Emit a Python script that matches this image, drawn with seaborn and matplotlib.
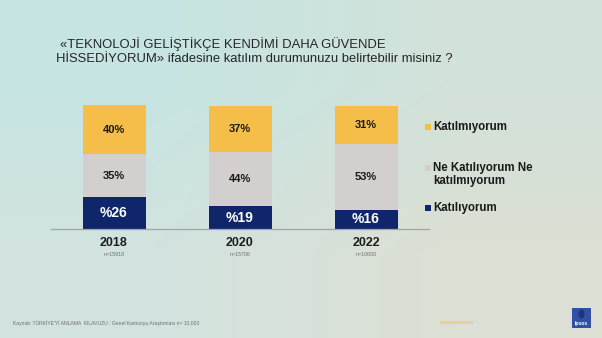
import numpy as np
import pandas as pd
import matplotlib
matplotlib.use("Agg")
import matplotlib.pyplot as plt
from matplotlib.patches import Rectangle, Ellipse
from matplotlib.transforms import blended_transform_factory
import seaborn as sns

# Survey results per year (percent)
years = ["2018", "2020", "2022"]
sample_sizes = ["n=15918", "n=15706", "n=10000"]
agree = [26, 19, 16]          # Katılıyorum
neutral = [35, 44, 53]        # Ne Katılıyorum Ne katılmıyorum
disagree = [40, 37, 31]       # Katılmıyorum

legend_labels = ["Katılmıyorum", "Ne Katılıyorum Ne\nkatılmıyorum", "Katılıyorum"]
title_line1 = "«TEKNOLOJİ GELİŞTİKÇE KENDİMİ DAHA GÜVENDE"
title_line2 = "HİSSEDİYORUM» ifadesine katılım durumunuzu belirtebilir misiniz ?"
source_text = "Kaynak: TÜRKİYE'Yİ ANLAMA  KILAVUZU : Genel Kamuoyu Araştırması n= 10,000"

C_YELLOW = "#F4BE49"
C_GREY = "#D3CFCF"
C_NAVY = "#10266A"

sns.set_theme(style="white")
plt.rcParams["font.family"] = ["Liberation Sans", "DejaVu Sans"]

W, H = 602, 338
fig = plt.figure(figsize=(W / 100, H / 100), dpi=100)

# soft gradient background
bg = fig.add_axes([0, 0, 1, 1], zorder=-10)
grad = np.array([[[0.776, 0.898, 0.890], [0.824, 0.886, 0.855]],
                 [[0.824, 0.890, 0.875], [0.863, 0.875, 0.831]]])
bg.imshow(grad, extent=[0, 1, 0, 1], aspect="auto", interpolation="bilinear",
          origin="upper")
bg.set_axis_off()

df = pd.DataFrame({"year": years, "agree": agree, "neutral": neutral,
                   "disagree": disagree})
df["cum_neutral"] = df["agree"] + df["neutral"]
df["cum_total"] = df["cum_neutral"] + df["disagree"]

px = lambda x: x / W
py = lambda y: 1 - y / H

ax = fig.add_axes([px(51), py(229.3), px(429) - px(51), py(105) - py(229.3)])
ax.patch.set_alpha(0)

# stacked bars drawn as cumulative layers, back to front
for col, color in [("cum_total", C_YELLOW), ("cum_neutral", C_GREY), ("agree", C_NAVY)]:
    sns.barplot(data=df, x="year", y=col, order=years, color=color,
                width=0.5, saturation=1, ax=ax, linewidth=0)

ax.set_xlim(-0.5, 2.5)
ax.set_ylim(0, 101)
ax.set_xlabel("")
ax.set_ylabel("")
ax.set_yticks([])
ax.set_xticks([])
ax.set_xticks([-0.5, 0.5, 1.5, 2.5], minor=True)
ax.tick_params(axis="x", which="minor", length=3, width=0.8, color="#9ea6a6",
               direction="out")
for s in ["top", "right", "left"]:
    ax.spines[s].set_visible(False)
ax.spines["bottom"].set_color("#9ea6a6")
ax.spines["bottom"].set_linewidth(0.9)

# segment labels
for i in range(len(years)):
    a, n, d = agree[i], neutral[i], disagree[i]
    ax.text(i, a / 2, f"%{a}", ha="center", va="center", color="white",
            fontsize=10, fontweight="bold")
    ax.text(i, a + n / 2, f"{n}%", ha="center", va="center", color="#1a1a1a",
            fontsize=8, fontweight="bold")
    ax.text(i, a + n + d / 2, f"{d}%", ha="center", va="center", color="#1a1a1a",
            fontsize=8, fontweight="bold")

# year and sample size labels under the axis
tr = blended_transform_factory(ax.transData, fig.transFigure)
for i, (yr, ns) in enumerate(zip(years, sample_sizes)):
    ax.text(i, py(242.7), yr, transform=tr, ha="center", va="center",
            fontsize=9, fontweight="bold", color="#1e1e1e")
    ax.text(i, py(254.5), ns, transform=tr, ha="center", va="center",
            fontsize=3.8, color="#6e6e6e")

# title
fig.text(px(60), py(44), title_line1, ha="left", va="center", fontsize=9.4,
         color="#262626")
fig.text(px(56), py(59.5), title_line2, ha="left", va="center", fontsize=9.4,
         color="#262626")

# legend
sq = 6
for (label, color, yc) in zip(legend_labels, [C_YELLOW, C_GREY, C_NAVY],
                              [127, 168, 208]):
    fig.patches.append(Rectangle((px(425), py(yc + sq / 2)), px(sq), sq / H,
                                 transform=fig.transFigure, facecolor=color,
                                 edgecolor="none"))
    if "\n" in label:
        fig.text(px(433), py(yc - 6), label, ha="left", va="top", fontsize=8.3,
                 fontweight="bold", color="#1a1a1a", linespacing=1.15)
    else:
        fig.text(px(433), py(yc), label, ha="left", va="center", fontsize=8.3,
                 fontweight="bold", color="#1a1a1a")

# footer source note
fig.text(px(13), py(323), source_text, ha="left", va="center", fontsize=3.6,
         color="#6f6f6f")

# small footer mark
fig.patches.append(Rectangle((px(440), py(323.5)), px(33), 2.5 / H,
                             transform=fig.transFigure, facecolor="#e2d08f",
                             edgecolor="none", alpha=0.8))

# Ipsos logo
fig.patches.append(Rectangle((px(572), py(328)), px(19), 20 / H,
                             transform=fig.transFigure, facecolor="#3150a6",
                             edgecolor="none"))
fig.patches.append(Ellipse((px(581.5), py(314)), px(6), 9 / H,
                           transform=fig.transFigure, facecolor="#1d3680",
                           edgecolor="none"))
fig.text(px(581.5), py(324), "Ipsos", ha="center", va="center", fontsize=3.6,
         fontweight="bold", color="white")

fig.savefig("out.png", dpi=100)
